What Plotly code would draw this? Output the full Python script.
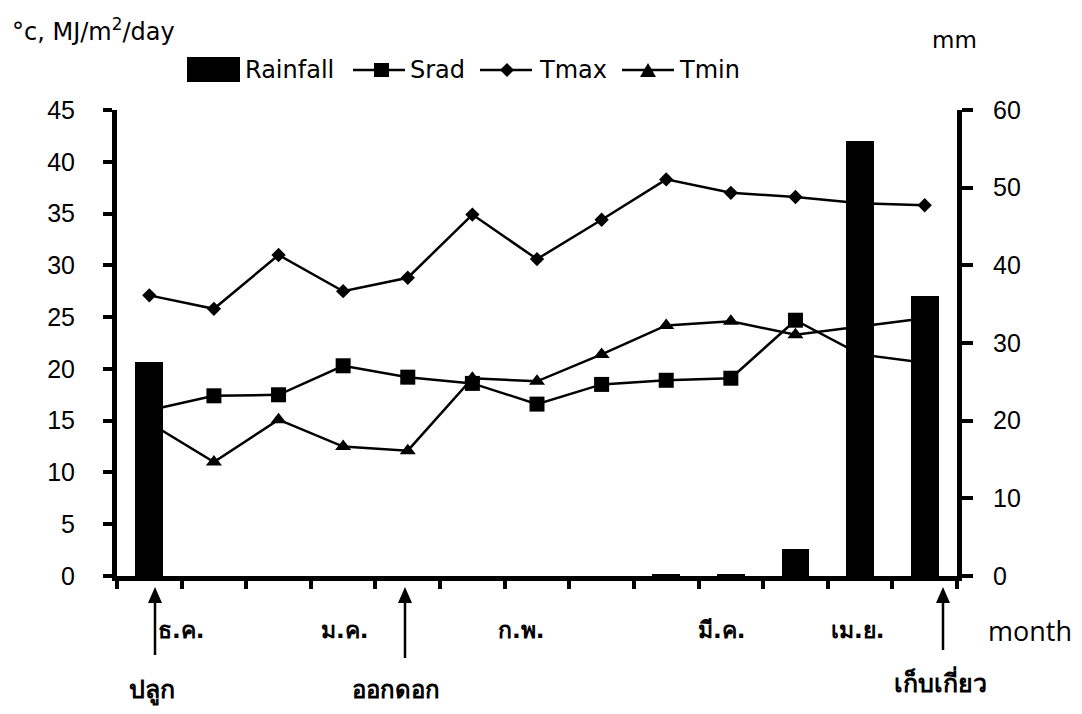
import plotly.graph_objects as go

# ---------------- data ----------------
periods = [str(i) for i in range(1, 14)]
rainfall = [27.6, 0, 0, 0, 0, 0, 0, 0, 0.15, 0.15, 3.5, 56.0, 36.0]      # mm (right axis)
srad = [16.0, 17.4, 17.5, 20.3, 19.2, 18.6, 16.6, 18.5, 18.9, 19.1, 24.7, 21.4, 20.6]
tmax = [27.1, 25.8, 31.0, 27.5, 28.8, 34.9, 30.6, 34.4, 38.3, 37.0, 36.6, 36.0, 35.8]
tmin = [14.8, 11.0, 15.1, 12.5, 12.1, 19.1, 18.8, 21.4, 24.2, 24.6, 23.3, 24.1, 24.9]
month_labels = ["ธ.ค.", "ม.ค.", "ก.พ.", "มี.ค.", "เม.ย."]
stage_labels = ["ปลูก", "ออกดอก", "เก็บเกี่ยว"]
left_ticks = list(range(0, 50, 5))
right_ticks = list(range(0, 70, 10))

# ---------------- layout geometry ----------------
W, H = 1082, 714
X0, X1, YT, YB = 117, 957, 110, 576


def px(x):
    return (x - X0) / (X1 - X0)


def py(y):
    return (YB - y) / (YB - YT)


TXT = "DejaVu Sans, Noto Sans, sans-serif"
TXT2 = "Open Sans, Noto Sans, sans-serif"
NUM = "Liberation Sans, Arial, sans-serif"

fig = go.Figure()

line_style = dict(color="black", width=2.5)
fig.add_trace(go.Scatter(x=periods, y=srad, mode="lines+markers", name="Srad",
                         line=line_style, marker=dict(symbol="square", size=15, color="black"),
                         yaxis="y"))
fig.add_trace(go.Scatter(x=periods, y=tmax, mode="lines+markers", name="Tmax",
                         line=line_style, marker=dict(symbol="diamond", size=11, color="black"),
                         yaxis="y"))
fig.add_trace(go.Scatter(x=periods, y=tmin, mode="lines+markers", name="Tmin",
                         line=line_style, marker=dict(symbol="triangle-up", size=14, color="black"),
                         yaxis="y"))
fig.add_trace(go.Bar(x=periods, y=rainfall, name="Rainfall", width=0.43,
                     marker=dict(color="black", line=dict(width=0)), yaxis="y2"))

axis_common = dict(showline=True, linecolor="black", linewidth=5, ticks="outside",
                   tickcolor="black", tickwidth=4, showgrid=False, zeroline=False)

fig.update_layout(
    width=W, height=H,
    margin=dict(l=X0, r=W - X1, t=YT, b=H - YB, pad=0),
    paper_bgcolor="white", plot_bgcolor="white",
    showlegend=False,
    bargap=0,
    xaxis=dict(type="category", range=[-0.5, 12.5], tickson="boundaries",
               showticklabels=False, ticklen=8, **axis_common),
    yaxis=dict(range=[0, 45], tickvals=left_ticks, ticklen=9,
               tickfont=dict(family=NUM, size=25, color="black"),
               ticklabelstandoff=23, **axis_common),
    yaxis2=dict(range=[0, 60], tickvals=right_ticks, overlaying="y", side="right",
                ticklen=11, tickfont=dict(family=NUM, size=25, color="black"),
                ticklabelstandoff=15, **axis_common),
)

shapes = []
annotations = []


def text(x, y, s, size=22, anchor="center", bold=False, family=TXT):
    if bold:
        s = "<b>" + s + "</b>"
    annotations.append(dict(x=px(x), y=py(y), xref="paper", yref="paper", text=s,
                            showarrow=False, xanchor=anchor, yanchor="middle",
                            font=dict(family=family, size=size, color="black")))


# axis titles
text(10, 30, "°c, MJ/m<sup>2</sup>/day", size=24, anchor="left")
text(954, 40, "mm", size=23)
text(1030, 630, "month", size=27, family=TXT2)

# legend (manual)
LY = 70
shapes.append(dict(type="rect", xref="paper", yref="paper", x0=px(187), x1=px(240),
                   y0=py(82), y1=py(57), fillcolor="black", line=dict(width=0)))
text(243, LY, "Rainfall", size=24, anchor="left")
for lx0, lx1 in [(353, 405), (480, 532), (622, 674)]:
    shapes.append(dict(type="line", xref="paper", yref="paper", x0=px(lx0), x1=px(lx1),
                       y0=py(LY), y1=py(LY), line=dict(color="black", width=2.5)))
shapes.append(dict(type="rect", xref="paper", yref="paper", x0=px(374), x1=px(389),
                   y0=py(77), y1=py(63), fillcolor="black", line=dict(width=0)))
text(408, LY, "Srad", size=24, anchor="left")


def ppath(points):
    return "M " + " L ".join(f"{px(a):.5f},{py(b):.5f}" for a, b in points) + " Z"


shapes.append(dict(type="path", xref="paper", yref="paper",
                   path=ppath([(507, 63), (514, 70), (507, 77), (500, 70)]),
                   fillcolor="black", line=dict(width=0)))
text(537, LY, "Tmax", size=24, anchor="left")
shapes.append(dict(type="path", xref="paper", yref="paper",
                   path=ppath([(640, 77), (656, 77), (648, 63)]),
                   fillcolor="black", line=dict(width=0)))
text(677, LY, "Tmin", size=24, anchor="left")

# month labels
for s, x in zip(month_labels, [181, 344, 521, 721, 857]):
    text(x, 630, s, size=23, bold=True)

# stage labels + arrows
for x, ybot in zip([155, 405, 943], [655, 658, 650]):
    shapes.append(dict(type="line", xref="paper", yref="paper", x0=px(x), x1=px(x),
                       y0=py(ybot), y1=py(598), line=dict(color="black", width=2.5)))
    shapes.append(dict(type="path", xref="paper", yref="paper",
                       path=ppath([(x - 7, 603), (x + 7, 603), (x, 587)]),
                       fillcolor="black", line=dict(width=0)))
for s, x, ty, sz in zip(stage_labels, [152, 396, 940], [690, 690, 682], [25, 24, 25]):
    text(x, ty, s, size=sz, bold=True)

fig.update_layout(shapes=shapes, annotations=annotations)

fig.write_html("out.html", config={"displayModeBar": False},
               post_script="document.body.style.margin='0px';")
